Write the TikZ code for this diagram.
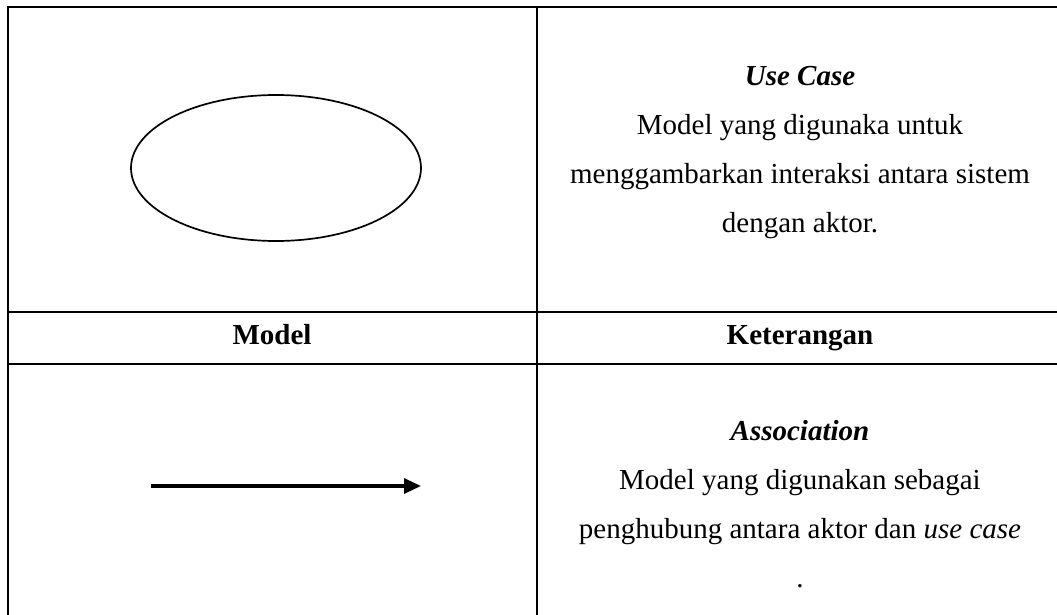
\documentclass[tikz,border=0pt]{standalone}
\usepackage{fontspec}
\setmainfont{Liberation Serif}
\usetikzlibrary{shapes.geometric, arrows.meta}

\begin{document}
\begin{tikzpicture}[x=0.5pt, y=-0.5pt,
        grid/.style={line width=1pt},
        head/.style={anchor=base, inner sep=0pt, font=\fontsize{14.5}{17}\selectfont\bfseries},
        desc/.style={anchor=north, inner sep=0pt, align=center, font=\fontsize{14.5}{24.5}\selectfont},
        usecase/.style={draw, ellipse, line width=0.85pt, inner sep=0pt, minimum width=145pt, minimum height=73pt},
        arrow/.style={-{Triangle[length=8.5pt, width=7.5pt]}, line width=1.6pt}
    ]
        \path[use as bounding box, clip] (0,0) rectangle (1057,615);
        % table frame
        \draw[grid] (8,650) -- (8,7) -- (1063,7) -- (1063,650);
        \draw[grid] (537,7) -- (537,650);
        \foreach \y in {312,364} \draw[grid] (8,\y) -- (1063,\y);

        \node[usecase] (usecase) at (276,168) {};
        \node[desc] (usecasetext) at (800,66) {\textbf{\textit{Use Case}}\\Model yang digunaka untuk\\menggambarkan interaksi antara sistem\\dengan aktor.};

        \node[head] (model) at (272,344) {Model};
        \node[head] (keterangan) at (800,344) {Keterangan};

        \coordinate (assocstart) at (151,486);
        \coordinate (assocend) at (421,486);
        \draw[arrow] (assocstart) -- (assocend);
        \node[desc] (assoctext) at (800,420) {\textbf{\textit{Association}}\\Model yang digunakan sebagai\\penghubung antara aktor dan \textit{use case}\\.};
    \end{tikzpicture}
\end{document}
